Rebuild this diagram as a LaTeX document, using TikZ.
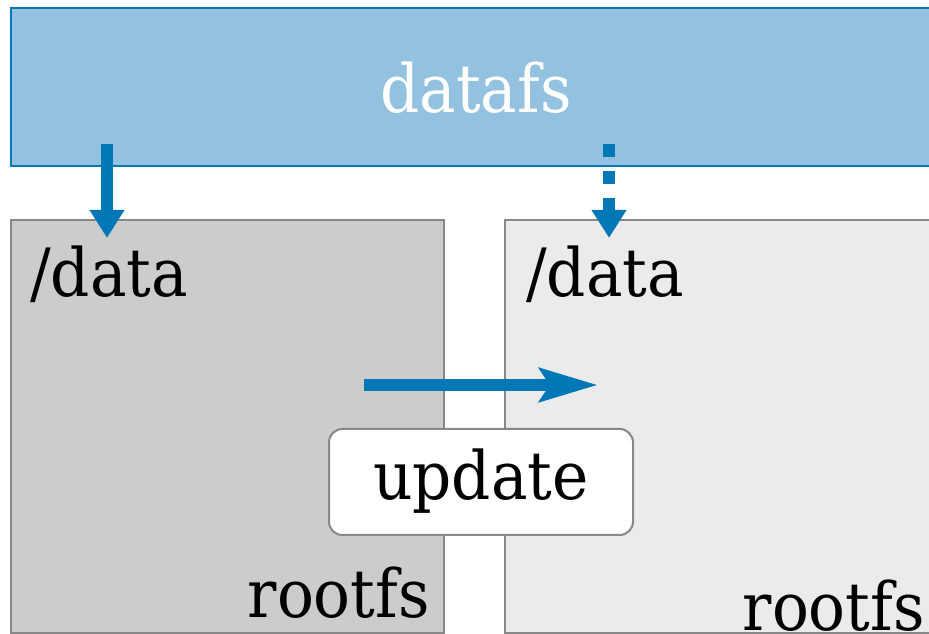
\documentclass[tikz,border=0pt]{standalone}
\usepackage{fontspec}
\setmainfont[FakeStretch=0.92]{DejaVu Serif}
\usetikzlibrary{arrows.meta}
\definecolor{fsblue}{HTML}{0077B6}
\definecolor{fsfill}{HTML}{92C2DF}
\definecolor{oldroot}{HTML}{CCCCCC}
\definecolor{newroot}{HTML}{EBEBEB}
\definecolor{framegray}{HTML}{888888}

\begin{document}
\begin{tikzpicture}[x=0.75pt,y=-0.75pt,
  lbl/.style={font=\fontsize{50}{60}\selectfont, inner sep=0pt},
  area/.style={draw=framegray, line width=2pt, inner sep=0pt, outer sep=0pt, anchor=north west},
  mount/.style={draw=fsblue, line width=9pt, -{Triangle[width=24.75pt,length=21pt]}},
  mountlater/.style={mount, dash pattern=on 9.75pt off 10.5pt},
  move/.style={draw=fsblue, line width=9pt, -{Stealth[width=24.75pt,length=43.5pt,inset=7.5pt]}}]
\useasboundingbox (0,0) rectangle (929,634);
\clip (0,0) rectangle (929,634);

% shared data partition
\node[area, draw=fsblue, fill=fsfill, minimum width=700.5pt, minimum height=118.5pt] (datafs) at (11,8) {};
\node[lbl, text=white, anchor=base] (datafslbl) at (476,113) {datafs};

% running and updated root filesystems
\node[area, fill=oldroot, minimum width=324.75pt, minimum height=310pt] (rootA) at (11,220) {};
\node[area, fill=newroot, minimum width=330pt, minimum height=310pt] (rootB) at (505,220) {};

\node[lbl, anchor=base west] (dataA) at (30,297) {/data};
\node[lbl, anchor=base west] (dataB) at (526,297) {/data};
\node[lbl, anchor=base east] (rootAlbl) at (430,618) {rootfs};
\node[lbl, anchor=base east] (rootBlbl) at (925,630) {rootfs};

% mount arrows
\coordinate (mA0) at (107,144);
\coordinate (mA1) at (107,238);
\coordinate (mB0) at (609,144);
\coordinate (mB1) at (609,238);
\draw[mount] (mA0) -- (mA1);
\draw[mountlater] (mB0) -- (mB1);

% update step
\coordinate (u0) at (364,385);
\coordinate (u1) at (598,385);
\draw[move] (u0) -- (u1);
\node[draw=framegray, fill=white, line width=1.5pt, rounded corners=10pt,
      minimum width=228pt, minimum height=79.5pt, inner sep=0pt] (update) at (481,482) {};
\node[lbl, anchor=base] (updatelbl) at (481,500) {update};
\end{tikzpicture}
\end{document}
